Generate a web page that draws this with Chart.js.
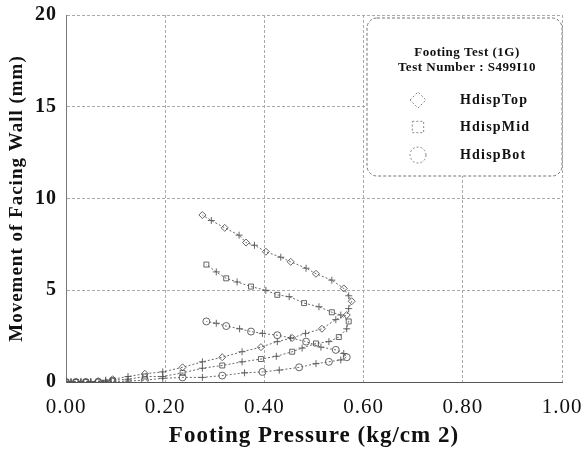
<!DOCTYPE html>
<html>
<head>
<meta charset="utf-8">
<script src="https://cdn.jsdelivr.net/npm/chart.js@4"></script>
<style>
  html, body { margin: 0; padding: 0; background: #fff; }
  #wrap { width: 583px; height: 450px; }
</style>
</head>
<body>
<div id="wrap"><canvas id="chart" width="583" height="450"></canvas></div>
<script>
const xTicks = [0, 0.2, 0.4, 0.6, 0.8, 1.0];
const yTicks = [0, 5, 10, 15, 20];
const seriesNames = ["HdispTop", "HdispMid", "HdispBot"];
const legendTitle = ["Footing Test (1G)", "Test Number : S499I10"];

// pressure (kg/cm2) and wall movement (mm), loading then unloading
const topPressure = [0, 0.01, 0.02, 0.03, 0.04, 0.05, 0.065, 0.08, 0.094, 0.125, 0.159, 0.195, 0.235, 0.275, 0.315, 0.355, 0.393, 0.426, 0.456, 0.483, 0.516, 0.544, 0.566, 0.57,
  0.576, 0.57, 0.56, 0.536, 0.504, 0.484, 0.453, 0.433, 0.403, 0.38, 0.363, 0.349, 0.32, 0.293, 0.275];
const topMove = [0, 0, 0, 0, 0, 0.02, 0.05, 0.1, 0.15, 0.3, 0.45, 0.55, 0.8, 1.1, 1.35, 1.65, 1.9, 2.2, 2.4, 2.65, 2.9, 3.4, 3.65, 4.0,
  4.4, 4.7, 5.1, 5.55, 5.9, 6.2, 6.55, 6.8, 7.1, 7.45, 7.6, 8.0, 8.4, 8.8, 9.1];

const midPressure = [0, 0.01, 0.02, 0.03, 0.04, 0.05, 0.065, 0.08, 0.094, 0.125, 0.159, 0.195, 0.235, 0.275, 0.315, 0.355, 0.393, 0.424, 0.456, 0.476, 0.504, 0.53, 0.55, 0.566,
  0.57, 0.554, 0.536, 0.51, 0.48, 0.45, 0.426, 0.403, 0.373, 0.345, 0.323, 0.303, 0.283];
const midMove = [0, 0, 0, 0, 0, 0, 0.02, 0.05, 0.1, 0.15, 0.3, 0.3, 0.5, 0.75, 0.9, 1.1, 1.25, 1.4, 1.65, 1.85, 2.1, 2.2, 2.45, 2.9,
  3.3, 3.65, 3.8, 4.1, 4.3, 4.65, 4.75, 5.0, 5.2, 5.45, 5.65, 6.0, 6.4];

const botPressure = [0, 0.01, 0.02, 0.03, 0.04, 0.05, 0.065, 0.08, 0.094, 0.125, 0.159, 0.195, 0.235, 0.275, 0.315, 0.36, 0.396, 0.43, 0.47, 0.504, 0.53, 0.554,
  0.566, 0.56, 0.544, 0.514, 0.484, 0.453, 0.426, 0.396, 0.373, 0.35, 0.323, 0.303, 0.283];
const botMove = [0, 0, 0, 0, 0, 0, 0, 0.01, 0.02, 0.05, 0.1, 0.2, 0.25, 0.25, 0.35, 0.5, 0.55, 0.65, 0.8, 1.0, 1.1, 1.2,
  1.35, 1.55, 1.75, 1.9, 2.2, 2.4, 2.55, 2.65, 2.75, 2.9, 3.05, 3.2, 3.3];

const toPoints = (xs, ys) => xs.map((x, i) => ({ x, y: ys[i] }));

const makeSet = (label, xs, ys, style) => ({
  label,
  data: toPoints(xs, ys),
  showLine: true,
  borderColor: "#444",
  borderWidth: 0.8,
  borderDash: [2, 2],
  pointBorderColor: "#555",
  pointBackgroundColor: "rgba(0,0,0,0)",
  pointBorderWidth: 0.9,
  pointRadius: 3.5,
  pointStyle: xs.map((_, i) => (i % 2 ? "cross" : style))
});

// the scanned original uses widely spaced serif lettering
const spacing = {
  id: "spacing",
  beforeDraw(chart) { chart.ctx.letterSpacing = "1px"; }
};

const legendBox = {
  id: "legendBox",
  afterDraw(chart) {
    const ctx = chart.ctx;
    ctx.save();
    ctx.fillStyle = "#fff";
    ctx.strokeStyle = "#777";
    ctx.lineWidth = 1;
    ctx.setLineDash([3, 2]);
    ctx.beginPath();
    ctx.roundRect(367, 18, 195, 158, 10);
    ctx.fill();
    ctx.stroke();

    const styles = ["rectRot", "rect", "circle"];
    const ys = [100, 127, 155];
    seriesNames.forEach((name, i) => {
      ctx.fillStyle = "#fff";
      ctx.strokeStyle = "#888";
      ctx.setLineDash([2, 2]);
      Chart.helpers.drawPoint(ctx, { pointStyle: styles[i], radius: 8, borderWidth: 1 }, 418, ys[i]);
    });

    ctx.setLineDash([]);
    ctx.fillStyle = "#111";
    ctx.textAlign = "center";
    ctx.textBaseline = "middle";
    ctx.font = "bold 13px 'Liberation Serif'";
    ctx.letterSpacing = "0.5px";
    ctx.fillText(legendTitle[0], 467, 53);
    ctx.fillText(legendTitle[1], 467, 68);

    ctx.textAlign = "left";
    ctx.font = "bold 14px 'Liberation Serif'";
    ctx.letterSpacing = "1.2px";
    seriesNames.forEach((name, i) => ctx.fillText(name, 460, ys[i]));
    ctx.restore();
  }
};

new Chart(document.getElementById("chart"), {
  type: "scatter",
  data: {
    datasets: [
      makeSet(seriesNames[0], topPressure, topMove, "rectRot"),
      makeSet(seriesNames[1], midPressure, midMove, "rect"),
      makeSet(seriesNames[2], botPressure, botMove, "circle")
    ]
  },
  options: {
    responsive: false,
    animation: false,
    layout: { padding: 0 },
    plugins: { legend: { display: false }, tooltip: { enabled: false } },
    scales: {
      x: {
        type: "linear",
        min: 0,
        max: 1,
        afterBuildTicks: (axis) => { axis.ticks = xTicks.map((v) => ({ value: v })); },
        afterFit: (axis) => {
          axis.height = 68;
          axis.paddingLeft = 0;
          axis.paddingRight = 21;
        },
        grid: { color: "#aaa", lineWidth: 1, drawTicks: false },
        border: { color: "#555", dash: [3, 2] },
        ticks: {
          padding: 13,
          color: "#111",
          font: { family: "'Liberation Serif'", size: 21 },
          callback: (v) => Number(v).toFixed(2)
        },
        title: {
          display: true,
          text: "Footing Pressure (kg/cm 2)",
          color: "#111",
          padding: { top: 0, bottom: 0 },
          font: { family: "'Liberation Serif'", size: 23, weight: "bold" }
        }
      },
      y: {
        type: "linear",
        min: 0,
        max: 20,
        afterBuildTicks: (axis) => { axis.ticks = yTicks.map((v) => ({ value: v })); },
        afterFit: (axis) => {
          axis.width = 66;
          axis.paddingTop = 15;
          axis.paddingBottom = 0;
        },
        grid: { color: "#aaa", lineWidth: 1, drawTicks: false },
        border: { color: "#777", dash: [3, 2] },
        ticks: {
          padding: 9,
          color: "#111",
          font: { family: "'Liberation Serif'", size: 20, weight: "bold" }
        },
        title: {
          display: true,
          text: "Movement of Facing Wall (mm)",
          color: "#111",
          padding: { top: 6, bottom: 0 },
          font: { family: "'Liberation Serif'", size: 19, weight: "bold" }
        }
      }
    }
  },
  plugins: [spacing, legendBox]
});
</script>
</body>
</html>
